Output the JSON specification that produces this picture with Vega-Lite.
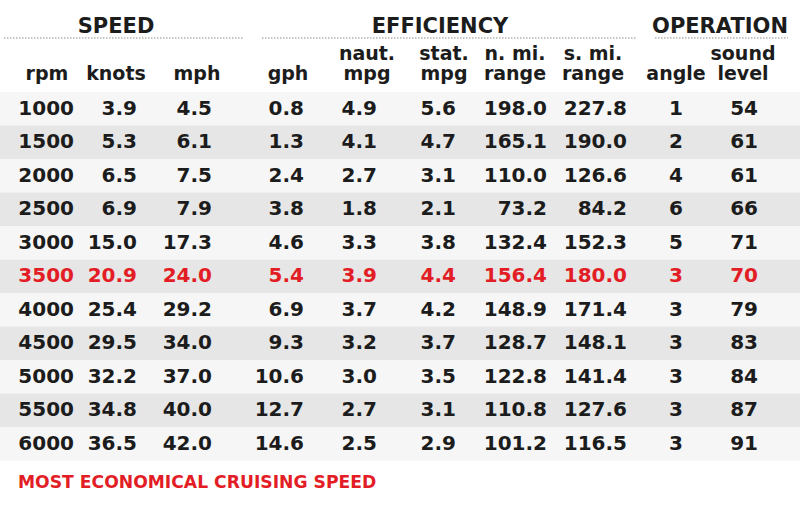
{
  "$schema": "https://vega.github.io/schema/vega-lite/v6.json",
  "width": 800,
  "height": 512,
  "padding": 0,
  "autosize": "none",
  "background": "white",
  "config": {
    "view": {"stroke": null},
    "text": {"font": "DejaVu Sans", "fontWeight": "bold"}
  },
  "title": {
    "text": "MOST ECONOMICAL CRUISING SPEED",
    "orient": "bottom",
    "anchor": "start",
    "frame": "group",
    "offset": -38,
    "dx": 18,
    "font": "DejaVu Sans",
    "fontSize": 17.2,
    "fontWeight": "bold",
    "color": "#e31d25"
  },
  "datasets": {
    "perf": [
      {"rpm": 1000, "knots": 3.9, "mph": 4.5, "gph": 0.8, "naut": 4.9, "stat": 5.6, "nmi": 198.0, "smi": 227.8, "angle": 1, "sound": 54},
      {"rpm": 1500, "knots": 5.3, "mph": 6.1, "gph": 1.3, "naut": 4.1, "stat": 4.7, "nmi": 165.1, "smi": 190.0, "angle": 2, "sound": 61},
      {"rpm": 2000, "knots": 6.5, "mph": 7.5, "gph": 2.4, "naut": 2.7, "stat": 3.1, "nmi": 110.0, "smi": 126.6, "angle": 4, "sound": 61},
      {"rpm": 2500, "knots": 6.9, "mph": 7.9, "gph": 3.8, "naut": 1.8, "stat": 2.1, "nmi": 73.2, "smi": 84.2, "angle": 6, "sound": 66},
      {"rpm": 3000, "knots": 15.0, "mph": 17.3, "gph": 4.6, "naut": 3.3, "stat": 3.8, "nmi": 132.4, "smi": 152.3, "angle": 5, "sound": 71},
      {"rpm": 3500, "knots": 20.9, "mph": 24.0, "gph": 5.4, "naut": 3.9, "stat": 4.4, "nmi": 156.4, "smi": 180.0, "angle": 3, "sound": 70},
      {"rpm": 4000, "knots": 25.4, "mph": 29.2, "gph": 6.9, "naut": 3.7, "stat": 4.2, "nmi": 148.9, "smi": 171.4, "angle": 3, "sound": 79},
      {"rpm": 4500, "knots": 29.5, "mph": 34.0, "gph": 9.3, "naut": 3.2, "stat": 3.7, "nmi": 128.7, "smi": 148.1, "angle": 3, "sound": 83},
      {"rpm": 5000, "knots": 32.2, "mph": 37.0, "gph": 10.6, "naut": 3.0, "stat": 3.5, "nmi": 122.8, "smi": 141.4, "angle": 3, "sound": 84},
      {"rpm": 5500, "knots": 34.8, "mph": 40.0, "gph": 12.7, "naut": 2.7, "stat": 3.1, "nmi": 110.8, "smi": 127.6, "angle": 3, "sound": 87},
      {"rpm": 6000, "knots": 36.5, "mph": 42.0, "gph": 14.6, "naut": 2.5, "stat": 2.9, "nmi": 101.2, "smi": 116.5, "angle": 3, "sound": 91}
    ],
    "columns": [
      {"key": "rpm", "idx": 0, "top": "", "bottom": "rpm"},
      {"key": "knots", "idx": 1, "top": "", "bottom": "knots"},
      {"key": "mph", "idx": 2, "top": "", "bottom": "mph"},
      {"key": "gph", "idx": 3, "top": "", "bottom": "gph"},
      {"key": "naut", "idx": 4, "top": "naut.", "bottom": "mpg"},
      {"key": "stat", "idx": 5, "top": "stat.", "bottom": "mpg"},
      {"key": "nmi", "idx": 6, "top": "n. mi.", "bottom": "range"},
      {"key": "smi", "idx": 7, "top": "s. mi.", "bottom": "range"},
      {"key": "angle", "idx": 8, "top": "", "bottom": "angle"},
      {"key": "sound", "idx": 9, "top": "sound", "bottom": "level"}
    ],
    "groups": [
      {"group": "SPEED", "first": 0, "last": 2},
      {"group": "EFFICIENCY", "first": 3, "last": 7},
      {"group": "OPERATION", "first": 8, "last": 9}
    ]
  },
  "resolve": {"scale": {"x": "independent"}},
  "layer": [
    {
      "data": {"name": "perf"},
      "mark": {"type": "rule", "strokeWidth": 33.5},
      "encoding": {
        "y": {
          "field": "rpm",
          "type": "quantitative",
          "scale": {"domain": [-623, 7018.5], "reverse": true, "nice": false, "zero": false},
          "axis": null
        },
        "color": {
          "condition": {"test": "datum.rpm % 1000 == 500", "value": "#e6e6e6"},
          "value": "#f6f6f6"
        }
      }
    },
    {
      "data": {"name": "perf"},
      "transform": [
        {"fold": ["knots", "mph", "gph", "naut", "stat", "nmi", "smi"], "as": ["key", "value"]},
        {"lookup": "key", "from": {"data": {"name": "columns"}, "key": "key", "fields": ["idx"]}}
      ],
      "mark": {"type": "text", "align": "right", "baseline": "middle", "fontSize": 20},
      "encoding": {
        "x": {
          "field": "idx",
          "type": "quantitative",
          "scale": {"domain": [0, 1, 2, 3, 4, 5, 6, 7, 8, 9], "range": [74, 137, 212, 304, 377, 456, 547, 627, 683, 758]},
          "axis": null
        },
        "y": {"field": "rpm", "type": "quantitative"},
        "text": {"field": "value", "type": "quantitative", "format": ".1f"},
        "color": {
          "condition": {"test": "datum.rpm == 3500", "value": "#e31d25"},
          "value": "#1c1c1c"
        }
      }
    },
    {
      "data": {"name": "perf"},
      "transform": [
        {"fold": ["rpm", "angle", "sound"], "as": ["key", "value"]},
        {"lookup": "key", "from": {"data": {"name": "columns"}, "key": "key", "fields": ["idx"]}}
      ],
      "mark": {"type": "text", "align": "right", "baseline": "middle", "fontSize": 20},
      "encoding": {
        "x": {
          "field": "idx",
          "type": "quantitative",
          "scale": {"domain": [0, 1, 2, 3, 4, 5, 6, 7, 8, 9], "range": [74, 137, 212, 304, 377, 456, 547, 627, 683, 758]},
          "axis": null
        },
        "y": {"field": "rpm", "type": "quantitative"},
        "text": {"field": "value", "type": "nominal"},
        "color": {
          "condition": {"test": "datum.rpm == 3500", "value": "#e31d25"},
          "value": "#1c1c1c"
        }
      }
    },
    {
      "data": {"name": "columns"},
      "mark": {"type": "text", "align": "center", "baseline": "alphabetic", "fontSize": 19, "color": "#1c1c1c"},
      "encoding": {
        "x": {
          "field": "idx",
          "type": "quantitative",
          "scale": {"domain": [0, 1, 2, 3, 4, 5, 6, 7, 8, 9], "range": [47, 116, 197, 288, 367, 444, 515, 593, 676, 743]},
          "axis": null
        },
        "y": {"datum": 272.5, "type": "quantitative"},
        "text": {"field": "top", "type": "nominal"}
      }
    },
    {
      "data": {"name": "columns"},
      "mark": {"type": "text", "align": "center", "baseline": "alphabetic", "fontSize": 19, "color": "#1c1c1c"},
      "encoding": {
        "x": {
          "field": "idx",
          "type": "quantitative",
          "scale": {"domain": [0, 1, 2, 3, 4, 5, 6, 7, 8, 9], "range": [47, 116, 197, 288, 367, 444, 515, 593, 676, 743]},
          "axis": null
        },
        "y": {"datum": 571, "type": "quantitative"},
        "text": {"field": "bottom", "type": "nominal"}
      }
    },
    {
      "data": {"name": "groups"},
      "mark": {"type": "rule", "strokeWidth": 1, "strokeDash": [1.5, 1.5], "color": "#8c8c8c"},
      "encoding": {
        "x": {
          "field": "first",
          "type": "quantitative",
          "scale": {"domain": [0, 2, 3, 7, 8, 9], "range": [4, 243, 262, 636, 655, 788]},
          "axis": null
        },
        "x2": {"field": "last"},
        "y": {"datum": -56, "type": "quantitative"}
      }
    },
    {
      "data": {"name": "groups"},
      "mark": {"type": "text", "align": "center", "baseline": "alphabetic", "fontSize": 21, "color": "#1c1c1c"},
      "encoding": {
        "x": {
          "field": "first",
          "type": "quantitative",
          "scale": {"domain": [0, 3, 8], "range": [116, 440, 720]},
          "axis": null
        },
        "y": {"datum": -130.5, "type": "quantitative"},
        "text": {"field": "group", "type": "nominal"}
      }
    }
  ]
}
